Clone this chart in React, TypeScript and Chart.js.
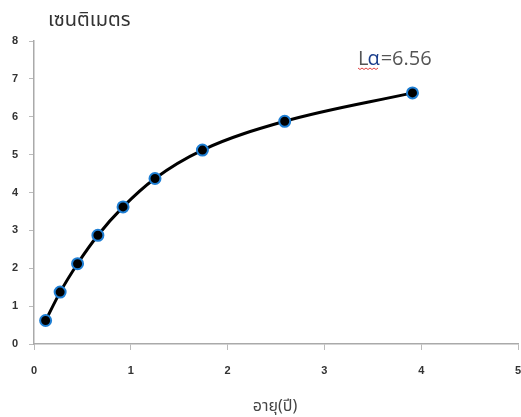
import React, { useEffect, useRef } from "react";
import { Chart, registerables } from "chart.js";

Chart.register(...registerables);

const ages = [0.12, 0.27, 0.45, 0.66, 0.92, 1.25, 1.74, 2.59, 3.91];
const lengths = [0.62, 1.37, 2.12, 2.87, 3.62, 4.37, 5.12, 5.88, 6.63];
const yTitle = "เซนติเมตร";
const xTitle = "อายุ(ปี)";
const noteL = "L";
const noteAlpha = "α";
const noteRest = "=6.56";

const textPlugin = {
  id: "texts",
  afterDraw(chart: any) {
    const ctx = chart.ctx as CanvasRenderingContext2D;
    ctx.save();
    ctx.textBaseline = "alphabetic";
    ctx.textAlign = "left";
    ctx.fillStyle = "#333";
    ctx.font = "20px 'Noto Sans Thai', 'Noto Sans', Tahoma, sans-serif";
    ctx.fillText(yTitle, 48, 26);
    ctx.textAlign = "center";
    ctx.font = "16px 'Noto Sans Thai', 'Noto Sans', Tahoma, sans-serif";
    ctx.fillStyle = "#444";
    ctx.fillText(xTitle, 275, 411);
    // annotation
    ctx.textAlign = "left";
    ctx.font = "20px 'Open Sans', 'Noto Sans', sans-serif";
    const x = 358;
    const y = 65;
    ctx.fillStyle = "#555";
    ctx.fillText(noteL, x, y);
    const wL = ctx.measureText(noteL).width;
    ctx.fillStyle = "#1c3f8c";
    ctx.fillText(noteAlpha, x + wL - 1, y);
    const wA = ctx.measureText(noteAlpha).width;
    ctx.fillStyle = "#555";
    ctx.fillText(noteRest, x + wL + wA, y);
    // wavy underline
    ctx.strokeStyle = "#e04040";
    ctx.lineWidth = 1;
    ctx.beginPath();
    const end = x + wL + wA - 1;
    for (let px = x; px <= end; px += 2) {
      const py = y + 3 + ((px - x) % 4 === 0 ? 0 : 1.5);
      if (px === x) ctx.moveTo(px, py);
      else ctx.lineTo(px, py);
    }
    ctx.stroke();
    ctx.restore();
  },
};

export default function App() {
  const ref = useRef<HTMLCanvasElement | null>(null);
  useEffect(() => {
    if (!ref.current) return;
    const chart = new Chart(ref.current, {
      type: "line",
      data: {
        datasets: [
          {
            data: ages.map((a, i) => ({ x: a, y: lengths[i] })),
            borderColor: "#000",
            borderWidth: 3,
            tension: 0.4,
            cubicInterpolationMode: "monotone",
            pointRadius: 5.5,
            pointBorderWidth: 2,
            pointBackgroundColor: "#000",
            pointBorderColor: "#1f7fd4",
            fill: false,
          },
        ],
      },
      options: {
        animation: false,
        responsive: false,
        events: [],
        layout: { autoPadding: false, padding: { top: 41, right: 3, left: 0, bottom: 0 } },
        plugins: { legend: { display: false }, tooltip: { enabled: false }, title: { display: false } },
        scales: {
          x: {
            type: "linear",
            min: 0,
            max: 5,
            ticks: {
              stepSize: 1,
              color: "#333",
              font: { family: "Arial, 'Liberation Sans', sans-serif", size: 11, weight: "bold" },
              padding: 14,
            },
            grid: { drawOnChartArea: false, drawTicks: true, tickLength: 6, color: "#bbb" },
            border: { color: "#aaa", width: 1.5 },
            afterFit(scale: any) {
              scale.height = 73;
              scale.paddingRight = 0;
              scale.paddingLeft = 0;
            },
          },
          y: {
            min: 0,
            max: 8,
            ticks: {
              stepSize: 1,
              color: "#333",
              font: { family: "Arial, 'Liberation Sans', sans-serif", size: 11, weight: "bold" },
              padding: 11,
            },
            grid: { drawOnChartArea: false, drawTicks: true, tickLength: 5, color: "#bbb" },
            border: { color: "#aaa", width: 1.5 },
            afterFit(scale: any) {
              scale.width = 34;
            },
          },
        },
      },
      plugins: [textPlugin],
    } as any);
    return () => chart.destroy();
  }, []);
  return (
    <div style={{ position: "absolute", left: 0, top: 0, width: 521, height: 417, background: "#fff" }}>
      <canvas ref={ref} width={521} height={417} style={{ width: 521, height: 417 }} />
    </div>
  );
}
